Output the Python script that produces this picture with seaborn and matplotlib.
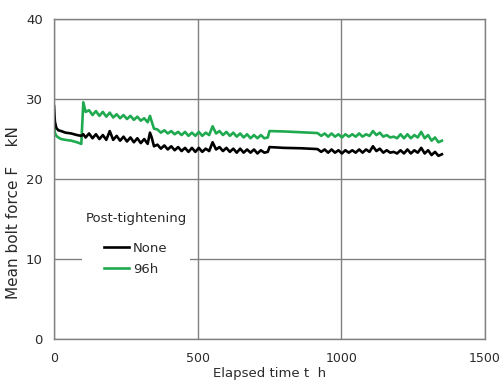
import matplotlib
matplotlib.use("Agg")
import matplotlib.pyplot as plt
import seaborn as sns
import pandas as pd

time_h = [0, 3, 8, 15, 25, 40, 60, 80, 95,
          102, 110, 122, 134, 146, 158, 170, 182, 194, 206, 218, 230, 242, 254,
          266, 278, 290, 302, 314, 326, 334, 340, 348,
          360, 372, 384, 396, 408, 420, 432, 444, 456, 468, 480, 492, 504, 516,
          528, 540, 552, 564, 576, 588, 600, 612, 624, 636, 648, 660, 672, 684,
          696, 708, 720, 732, 744, 750,
          800, 860, 917,
          930, 942, 954, 966, 978, 990, 1002, 1014, 1026, 1038, 1050, 1062, 1074,
          1086, 1098, 1110, 1122, 1134, 1146, 1158, 1170, 1182, 1194, 1206, 1218,
          1230, 1242, 1254, 1266, 1278, 1290, 1302, 1314, 1326, 1338, 1350]

force_none = [29.1, 27.2, 26.4, 26.1, 26.0, 25.8, 25.7, 25.5, 25.4,
              25.6, 25.2, 25.7, 25.1, 25.6, 25.0, 25.5, 24.9, 26.0, 24.9, 25.4, 24.8, 25.3, 24.7,
              25.2, 24.6, 25.1, 24.5, 25.0, 24.4, 25.8, 25.2, 24.1,
              24.3, 23.8, 24.2, 23.7, 24.1, 23.6, 24.0, 23.5, 23.9, 23.4, 23.9, 23.4, 23.9, 23.4,
              23.8, 23.5, 24.6, 23.7, 24.0, 23.5, 23.9, 23.4, 23.8, 23.3, 23.8, 23.3, 23.7, 23.3,
              23.7, 23.2, 23.6, 23.3, 23.4, 24.0,
              23.9, 23.85, 23.75,
              23.4, 23.7, 23.3, 23.7, 23.3, 23.6, 23.2, 23.6, 23.3, 23.6, 23.3, 23.7, 23.3,
              23.7, 23.4, 24.1, 23.5, 23.8, 23.3, 23.6, 23.3, 23.4, 23.2, 23.6, 23.2,
              23.7, 23.2, 23.6, 23.3, 23.9, 23.2, 23.6, 23.0, 23.4, 22.9, 23.1]

force_96h = [27.4, 25.8, 25.4, 25.2, 25.0, 24.9, 24.8, 24.6, 24.4,
             29.6, 28.4, 28.6, 28.0, 28.5, 27.9, 28.4, 27.8, 28.3, 27.7, 28.1, 27.6, 28.0, 27.5,
             27.9, 27.4, 27.8, 27.3, 27.6, 27.1, 27.9, 27.2, 26.3,
             26.2, 25.8, 26.1, 25.7, 26.0, 25.6, 25.9, 25.5, 25.9, 25.4, 25.8, 25.4, 25.9, 25.4,
             25.8, 25.5, 26.6, 25.7, 26.0, 25.5, 25.9, 25.4, 25.8, 25.3, 25.7, 25.2, 25.6, 25.1,
             25.5, 25.1, 25.5, 25.1, 25.2, 26.0,
             25.95, 25.85, 25.75,
             25.4, 25.7, 25.3, 25.7, 25.3, 25.6, 25.2, 25.6, 25.3, 25.6, 25.3, 25.7, 25.3,
             25.6, 25.4, 26.0, 25.5, 25.8, 25.3, 25.5, 25.2, 25.3, 25.1, 25.6, 25.1,
             25.6, 25.1, 25.5, 25.2, 25.9, 25.1, 25.5, 24.8, 25.2, 24.6, 24.8]

series_labels = ["None", "96h"]
x_ticks = [0, 500, 1000, 1500]
y_ticks = [0, 10, 20, 30, 40]

df = pd.concat([
    pd.DataFrame({"t": time_h, "F": force_96h, "series": series_labels[1]}),
    pd.DataFrame({"t": time_h, "F": force_none, "series": series_labels[0]}),
], ignore_index=True)

plt.rcParams["font.family"] = ["DejaVu Sans"]
FS = 9.5
TXT = "#2a2a2a"
fig = plt.figure(figsize=(5.0, 3.81), dpi=100)
ax = fig.add_axes([0.108, 0.110, 0.862, 0.840])

palette = {"None": "#000000", "96h": "#1faa50"}
sns.lineplot(data=df, x="t", y="F", hue="series", hue_order=["96h", "None"],
             palette=palette, ax=ax, linewidth=1.9, estimator=None, sort=False,
             legend=True)

ax.set_xlim(0, 1500)
ax.set_ylim(0, 40)
ax.set_xticks(x_ticks)
ax.set_yticks(y_ticks)
ax.grid(True, color="#808080", linewidth=1.0)
ax.set_axisbelow(True)
for s in ax.spines.values():
    s.set_color("#808080")
    s.set_linewidth(1.0)
ax.tick_params(axis="x", length=0, labelsize=9, pad=9, colors=TXT)
ax.tick_params(axis="y", length=0, labelsize=9.5, pad=8, colors=TXT)
ax.set_xlabel("Elapsed time t  h", fontsize=FS, labelpad=2, color=TXT)
ax.set_ylabel("Mean bolt force F    kN", fontsize=11, color=TXT)
ax.yaxis.set_label_coords(-0.077, 0.394)

handles, labels = ax.get_legend_handles_labels()
order = [labels.index(l) for l in series_labels]
leg = ax.legend([handles[i] for i in order], [labels[i] for i in order],
                title="Post-tightening", loc="center",
                bbox_to_anchor=(0.19, 0.297), frameon=True, fontsize=FS,
                title_fontsize=FS, handlelength=1.9, handletextpad=0.25,
                labelspacing=0.6, borderpad=0.25)
leg.get_frame().set_edgecolor("none")
leg.get_frame().set_facecolor("white")
leg.get_frame().set_alpha(1.0)
leg.get_title().set_color(TXT)
for t in leg.get_texts():
    t.set_color(TXT)
leg._legend_box.sep = 12

fig.savefig("out.png", dpi=100)
